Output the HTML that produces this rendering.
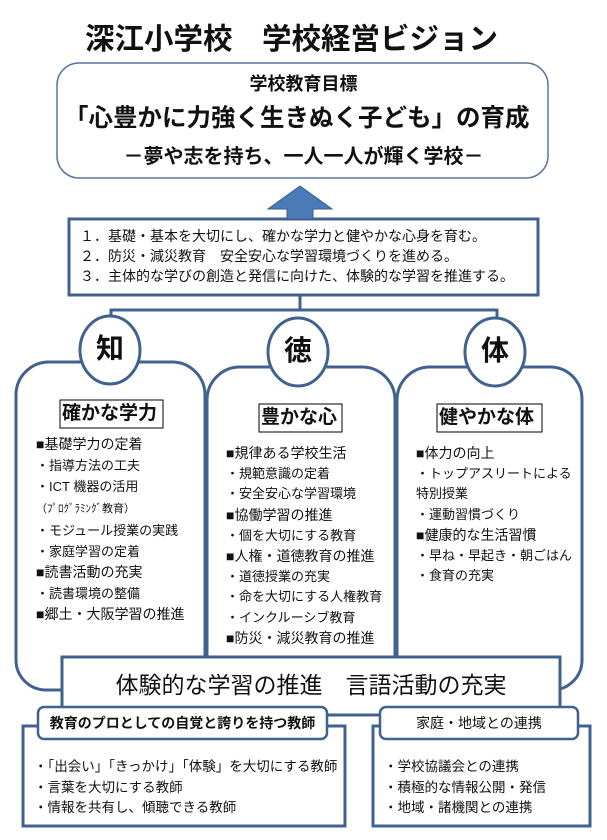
<!DOCTYPE html>
<html><head><meta charset="utf-8"><style>
body{margin:0;width:607px;height:840px;background:#fff;position:relative;overflow:hidden;font-family:"Liberation Sans","Noto Sans CJK JP",sans-serif;color:#111}
.a{position:absolute;white-space:nowrap;line-height:1}
.b{font-weight:bold}
svg{position:absolute;left:0;top:0}
.s{font-size:13px}.m{font-size:14px}
</style></head><body>
<svg width="607" height="840">
<g fill="none" stroke="#41618f" stroke-width="3">
<rect x="57" y="63" width="491" height="115" rx="22" stroke-width="1.5" stroke="#5a76a0"/>
<rect x="69" y="219" width="469" height="76"/>
<path d="M300 295V310M111 318V310H497V318"/>
<path d="M205 690V395a33 33 0 0 0 -33 -33H49a33 33 0 0 0 -33 33V660a30 30 0 0 0 30 30H62"/>
<path d="M207 660V400a33 33 0 0 1 33 -33H362a33 33 0 0 1 33 33V660"/>
<path d="M397 660V400a33 33 0 0 1 33 -33H550a32 32 0 0 1 32 32V660a30 30 0 0 1 -30 30H560"/>
<rect x="62" y="657" width="498" height="58" fill="#fff"/>
<rect x="23" y="726" width="322" height="100" fill="#fff"/>
<rect x="373" y="726" width="217" height="100" fill="#fff"/>
<rect x="38" y="707" width="289" height="32" rx="6" fill="#fff" stroke-width="2.5"/>
<rect x="380" y="707" width="198" height="32" rx="6" fill="#fff" stroke-width="2.5"/>
<ellipse cx="110" cy="350" rx="30" ry="34" fill="#fff"/>
<ellipse cx="298" cy="352" rx="30" ry="34" fill="#fff"/>
<ellipse cx="495" cy="352" rx="30" ry="34" fill="#fff"/>
</g>
<path d="M300 186L332 209H313V219H287V209H268Z" fill="#4a7ab8" stroke="#3a5f90" stroke-width="1"/>
<g fill="none" stroke="#000" stroke-width="1">
<rect x="60" y="400" width="103" height="28"/>
<rect x="259" y="404" width="83" height="28"/>
<rect x="437" y="404" width="105" height="28"/>
</g>
</svg>
<div class="a b" style="left:85px;top:25px;font-size:29.5px">深江小学校　学校経営ビジョン</div>
<div class="a b" style="left:0;width:607px;text-align:center;top:75px;font-size:18px">学校教育目標</div>
<div class="a b" style="left:64px;top:107px;font-size:24.5px">「心豊かに力強く生きぬく子ども」の育成</div>
<div class="a b" style="left:0;width:607px;text-align:center;top:147px;font-size:20px">－夢や志を持ち、一人一人が輝く学校－</div>
<div class="a" style="left:80px;top:226px;font-size:14px;line-height:20px">１．基礎・基本を大切にし、確かな学力と健やかな心身を育む。<br>２．防災・減災教育　安全安心な学習環境づくりを進める。<br>３．主体的な学びの創造と発信に向けた、体験的な学習を推進する。</div>
<div class="a b" style="left:96px;top:335px;font-size:28px">知</div>
<div class="a b" style="left:284px;top:337px;font-size:28px">徳</div>
<div class="a b" style="left:481px;top:337px;font-size:28px">体</div>
<div class="a b" style="left:62px;top:404px;font-size:19px">確かな学力</div>
<div class="a b" style="left:261px;top:408px;font-size:19px">豊かな心</div>
<div class="a b" style="left:439px;top:408px;font-size:19px">健やかな体</div>
<div class="a" style="left:36px;top:434px;font-size:13px;line-height:21px"><span class="m">■基礎学力の定着</span><br>・指導方法の工夫<br>・ICT 機器の活用<br><span style="font-size:11px">（ﾌﾟﾛｸﾞﾗﾐﾝｸﾞ教育）</span><br>・モジュール授業の実践<br>・家庭学習の定着<br><span class="m">■読書活動の充実</span><br>・読書環境の整備<br><span class="m">■郷土・大阪学習の推進</span></div>
<div class="a" style="left:226px;top:443px;font-size:13px;line-height:20.2px"><span class="m">■規律ある学校生活</span><br>・規範意識の定着<br>・安全安心な学習環境<br><span class="m">■協働学習の推進</span><br>・個を大切にする教育<br><span class="m">■人権・道徳教育の推進</span><br>・道徳授業の充実<br>・命を大切にする人権教育<br>・インクルーシブ教育<br><span class="m">■防災・減災教育の推進</span></div>
<div class="a" style="left:416px;top:443px;font-size:13px;line-height:20.2px"><span class="m">■体力の向上</span><br>・トップアスリートによる<br>特別授業<br>・運動習慣づくり<br><span class="m">■健康的な生活習慣</span><br>・早ね・早起き・朝ごはん<br>・食育の充実</div>
<div class="a" style="left:0;width:622px;text-align:center;top:674px;font-size:23px">体験的な学習の推進　言語活動の充実</div>
<div class="a b" style="left:38px;width:289px;text-align:center;top:716px;font-size:14px">教育のプロとしての自覚と誇りを持つ教師</div>
<div class="a" style="left:380px;width:198px;text-align:center;top:716px;font-size:14px">家庭・地域との連携</div>
<div class="a" style="left:34px;top:757px;font-size:13.5px;line-height:20.5px">・「出会い」「きっかけ」「体験」を大切にする教師<br>・言葉を大切にする教師<br>・情報を共有し、傾聴できる教師</div>
<div class="a" style="left:384px;top:757px;font-size:13.5px;line-height:20.5px">・学校協議会との連携<br>・積極的な情報公開・発信<br>・地域・諸機関との連携</div>
</body></html>
